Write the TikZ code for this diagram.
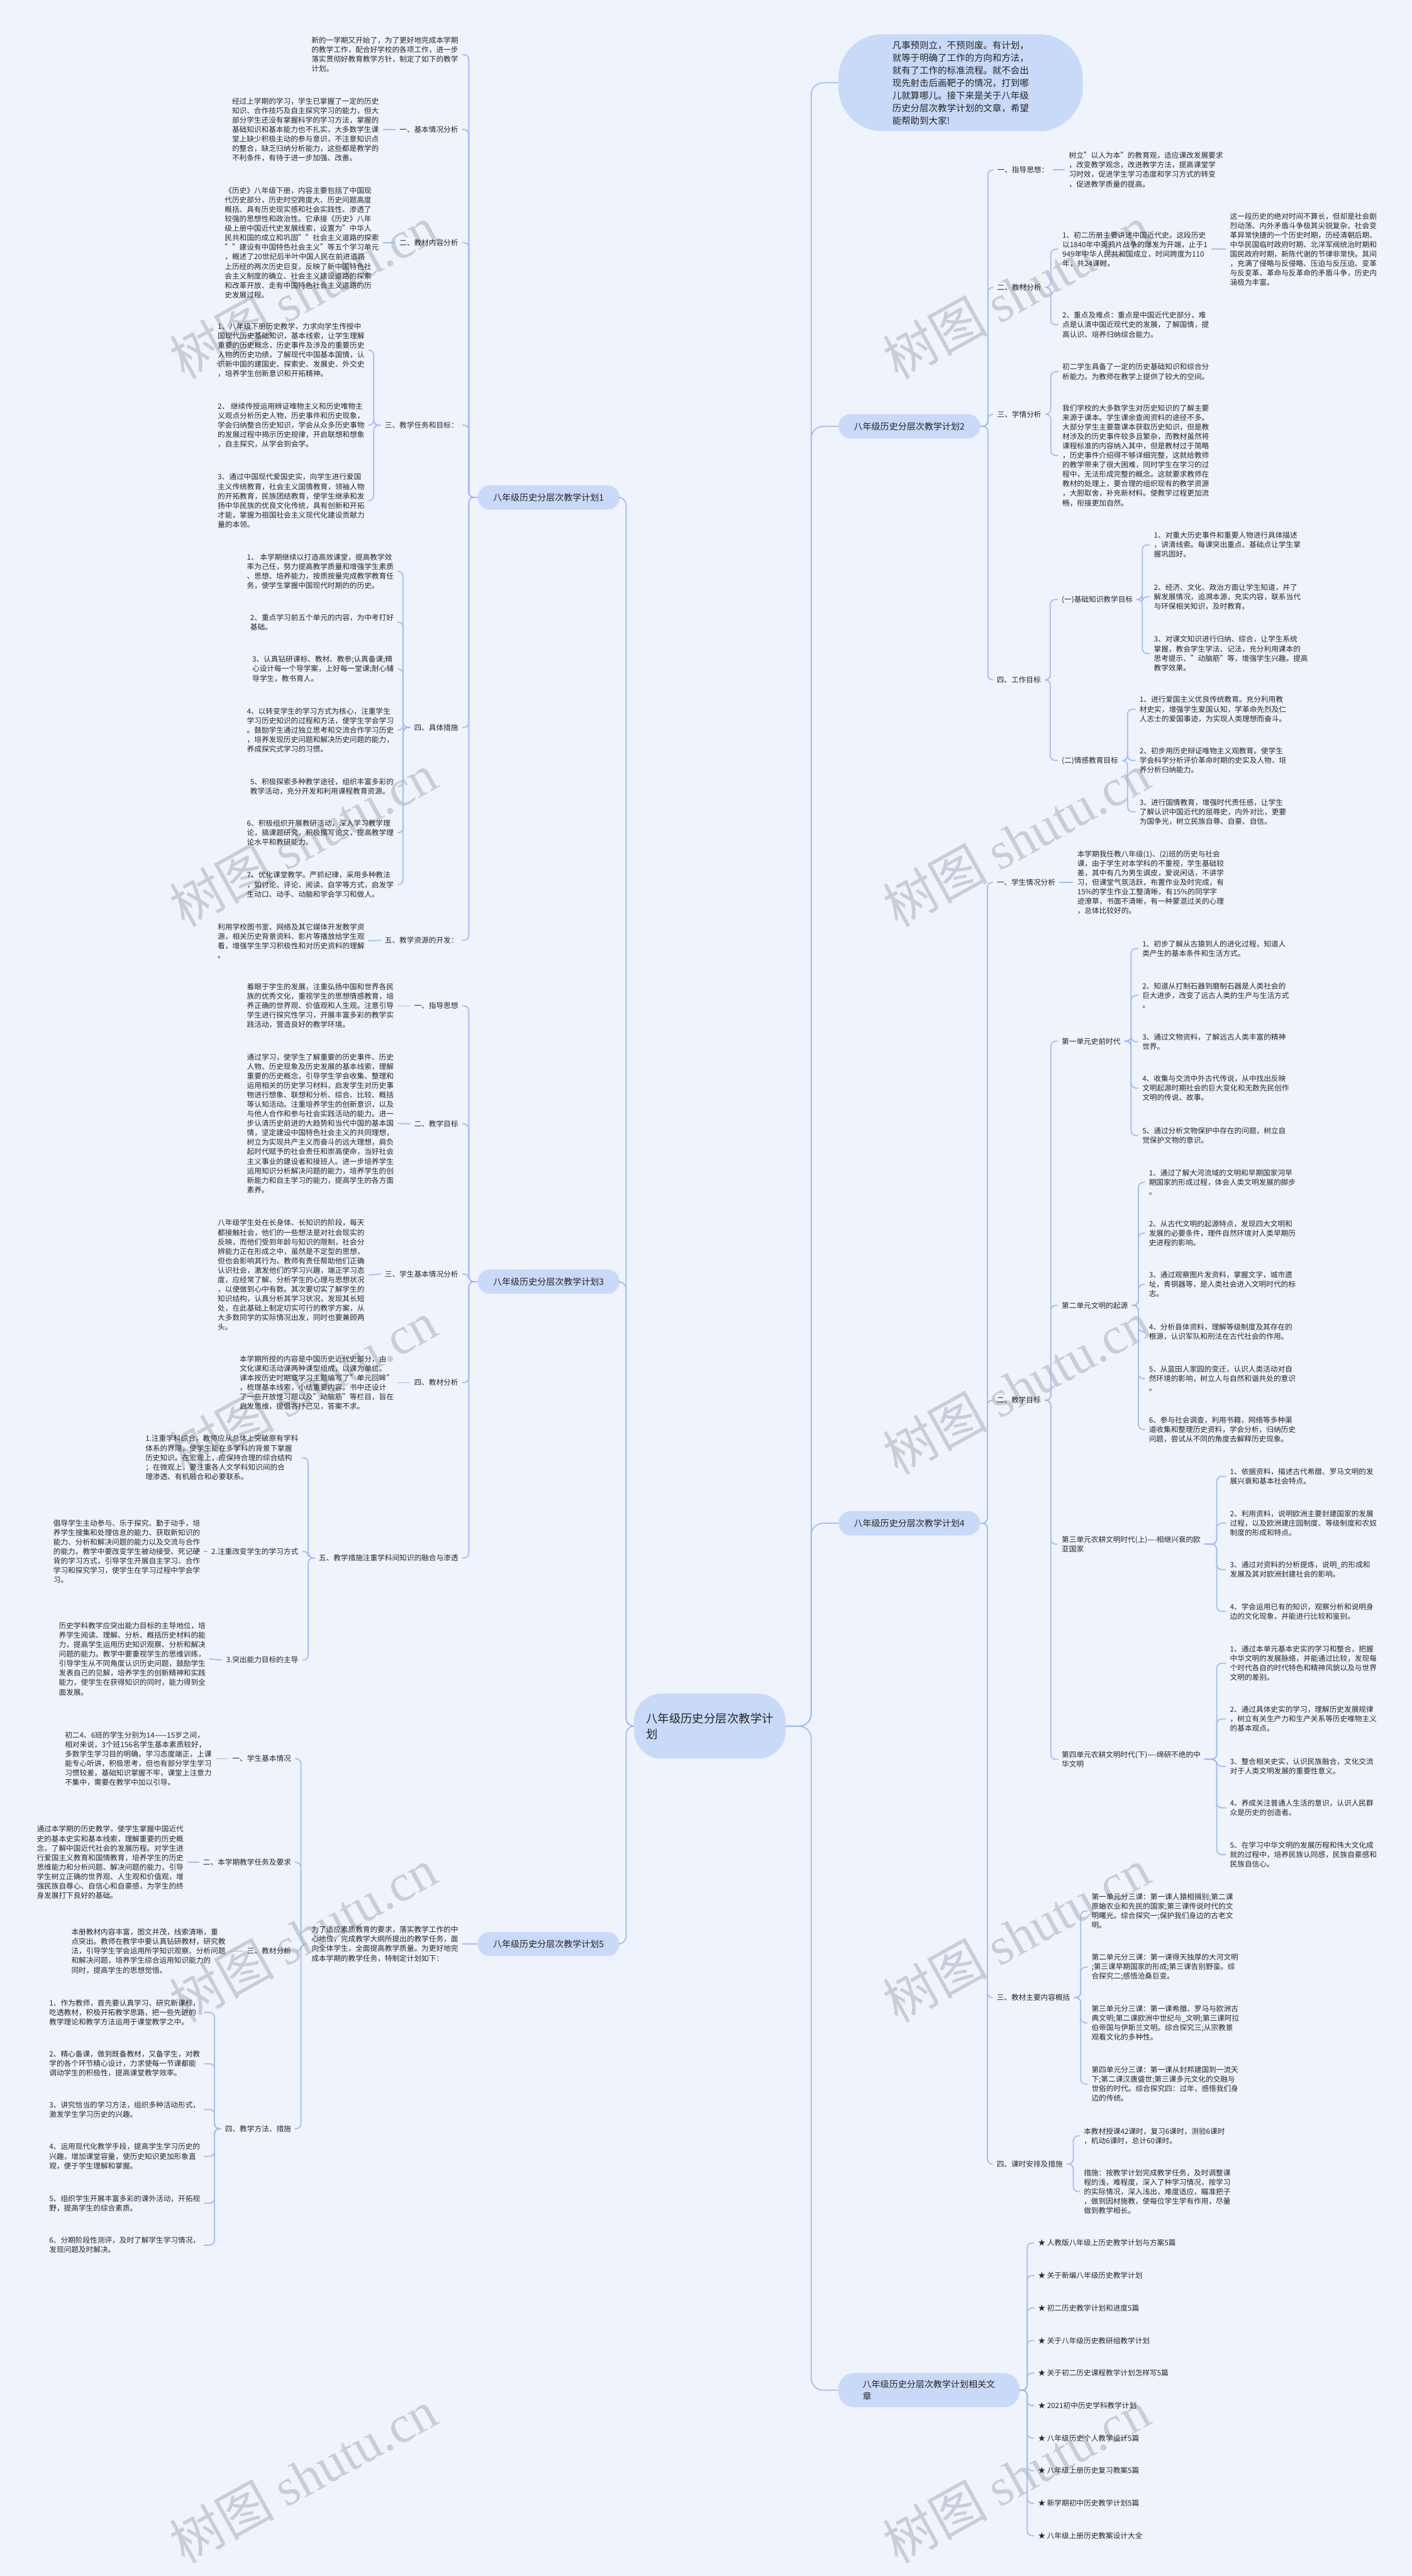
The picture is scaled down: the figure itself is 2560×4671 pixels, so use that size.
\documentclass[tikz,border=0pt]{standalone}
\usepackage{fontspec}
\setmainfont{Noto Sans CJK SC}
\newfontfamily\wmlat{Liberation Serif}
\definecolor{bg}{HTML}{EEF3FC}
\definecolor{ln}{HTML}{A4BDEA}
\definecolor{pillc}{HTML}{C9D9F8}
\definecolor{tx}{HTML}{262626}
\definecolor{wmc}{HTML}{9AA0AC}
\begin{document}
\begin{tikzpicture}[x=1pt,y=-1pt,
  t/.style={font=\fontsize{13.3}{17.2}\selectfont, align=left, inner xsep=7pt, inner ysep=1pt, text=tx},
  L/.style={t, anchor=east},
  R/.style={t, anchor=west},
  pill/.style={fill=pillc, rounded corners=22pt, minimum height=44pt, inner xsep=28pt, font=\fontsize{16}{21}\selectfont, text=tx},
  rootn/.style={fill=pillc, rounded corners=50pt, minimum width=275pt, minimum height=118pt, align=left, font=\fontsize{21}{29}\selectfont, text=tx},
  bubble/.style={fill=pillc, rounded corners=80pt, minimum width=443pt, minimum height=176pt, align=left, font=\fontsize{16.5}{22.8}\selectfont, text=tx},
  conn/.style={draw=ln, line width=2pt, rounded corners=9pt},
  br/.style={to path={(\tikztostart) -- ++(#1,0) |- (\tikztotarget)}},
  wm/.style={text=wmc, opacity=0.45, rotate=29, anchor=base west, inner sep=0pt, font=\fontsize{95}{95}\selectfont}
]
\fill[bg] (0,0) rectangle (2560,4671);
\useasboundingbox (0,0) rectangle (2560,4671);
\foreach \yy in {690,1683,2676,3669,4650}{
  \node[wm] (wl\yy) at (335,\yy) {树图 {\wmlat shutu.cn}};
  \node[wm] (wr\yy) at (1628,\yy) {树图 {\wmlat shutu.cn}};
}

% ---------- root ----------
\node[rootn] (root) at (1287,3130) {八年级历史分层次教学计\\划};
\node[bubble, anchor=west] (bub) at (1520,150) {凡事预则立，不预则废。有计划，\\就等于明确了工作的方向和方法，\\就有了工作的标准流程。就不会出\\现先射击后画靶子的情况，打到哪\\儿就算哪儿。接下来是关于八年级\\历史分层次教学计划的文章，希望\\能帮助到大家!};

\node[pill, anchor=west] (p1) at (866,902) {八年级历史分层次教学计划1};
\node[pill, anchor=west] (p3) at (866,2324) {八年级历史分层次教学计划3};
\node[pill, anchor=west] (p5) at (866,3525) {八年级历史分层次教学计划5};
\node[pill, anchor=west] (p2) at (1520,773) {八年级历史分层次教学计划2};
\node[pill, anchor=west] (p4) at (1520,2762) {八年级历史分层次教学计划4};
\node[pill, anchor=west, minimum height=62pt, inner xsep=44pt, align=left, rounded corners=28pt] (p6) at (1520,4334) {八年级历史分层次教学计划相关文\\章};

\begin{scope}[conn, rounded corners=14pt]
\draw (root.west) to[br=-14] (p1.east);
\draw (root.west) to[br=-14] (p3.east);
\draw (root.west) to[br=-14] (p5.east);
\end{scope}
\begin{scope}[conn, rounded corners=22pt]
\draw (root.east) to[br=46] (bub.west);
\draw (root.east) to[br=46] (p2.west);
\draw (root.east) to[br=46] (p4.west);
\draw (root.east) to[br=46] (p6.west);
\end{scope}

% ---------- plan 1 ----------
\node[L] (a1) at (838,99) {新的一学期又开始了，为了更好地完成本学期\\的教学工作，配合好学校的各项工作，进一步\\落实贯彻好教育教学方针，制定了如下的教学\\计划。};
\node[L] (a2) at (838,235) {一、基本情况分析};
\node[L] (a2t) at (694,235) {经过上学期的学习，学生已掌握了一定的历史\\知识、合作技巧及自主探究学习的能力，但大\\部分学生还没有掌握科学的学习方法，掌握的\\基础知识和基本能力也不扎实，大多数学生课\\堂上缺少积极主动的参与意识，不注意知识点\\的整合，缺乏归纳分析能力，这些都是教学的\\不利条件，有待于进一步加强、改善。};
\node[L] (a3) at (838,440) {二、教材内容分析};
\node[L] (a3t) at (694,440) {《历史》八年级下册，内容主要包括了中国现\\代历史部分，历史时空跨度大、历史问题高度\\概括、具有历史现实感和社会实践性、渗透了\\较强的思想性和政治性。它承接《历史》八年\\级上册中国近代史发展线索，设置为"中华人\\民共和国的成立和巩固""社会主义道路的探索\\""建设有中国特色社会主义"等五个学习单元\\，概述了20世纪后半叶中国人民在前进道路\\上历经的两次历史巨变，反映了新中国特色社\\会主义制度的确立、社会主义建设道路的探索\\和改革开放、走有中国特色社会主义道路的历\\史发展过程。};
\node[L] (a4) at (838,771) {三、教学任务和目标：};
\node[L] (a41) at (668,635) {1、八年级下册历史教学，力求向学生传授中\\国现代历史基础知识，基本线索，让学生理解\\重要的历史概念，历史事件及涉及的重要历史\\人物的历史功绩，了解现代中国基本国情，认\\识新中国的建国史、探索史、发展史、外交史\\，培养学生创新意识和开拓精神。};
\node[L] (a42) at (668,771) {2、 继续传授运用辨证唯物主义和历史唯物主\\义观点分析历史人物，历史事件和历史现象，\\学会归纳整合历史知识，学会从众多历史事物\\的发展过程中揭示历史规律，开启联想和想象\\，自主探究，从学会到会学。};
\node[L] (a43) at (668,908) {3、通过中国现代爱国史实，向学生进行爱国\\主义传统教育，社会主义国情教育，领袖人物\\的开拓教育，民族团结教育，使学生继承和发\\扬中华民族的优良文化传统，具有创新和开拓\\才能，掌握为祖国社会主义现代化建设贡献力\\量的本领。};
\node[L] (a5) at (838,1319) {四、具体措施};
\node[L] (a51) at (721,1036) {1、 本学期继续以打造高效课堂，提高教学效\\率为己任，努力提高教学质量和增强学生素质\\、思想、培养能力，按质按量完成教学教育任\\务，使学生掌握中国现代时期的的历史。};
\node[L] (a52) at (721,1128) {2、重点学习前五个单元的内容，为中考打好\\基础。};
\node[L] (a53) at (721,1213) {3、认真钻研课标、教材、教参;认真备课;精\\心设计每一个导学案，上好每一堂课;耐心辅\\导学生，教书育人。};
\node[L] (a54) at (721,1324) {4、以转变学生的学习方式为核心，注重学生\\学习历史知识的过程和方法，使学生学会学习\\。鼓励学生通过独立思考和交流合作学习历史\\，培养发现历史问题和解决历史问题的能力，\\养成探究式学习的习惯。};
\node[L] (a55) at (721,1426) {5、积极探索多种教学途径，组织丰富多彩的\\教学活动，充分开发和利用课程教育资源。};
\node[L] (a56) at (721,1510) {6、积极组织开展教研活动，深入学习教学理\\论，搞课题研究，积极撰写论文，提高教学理\\论水平和教研能力。};
\node[L] (a57) at (721,1604) {7、优化课堂教学。严抓纪律，采用多种教法\\，如讨论、评论、阅读、自学等方式，启发学\\生动口、动手、动脑和学会学习和做人。};
\node[L] (a6) at (838,1705) {五、教学资源的开发：};
\node[L] (a6t) at (668,1706) {利用学校图书室、网络及其它媒体开发教学资\\源，相关历史背景资料、影片等播放给学生观\\看，增强学生学习积极性和对历史资料的理解\\。};

\begin{scope}[conn]
\foreach \n in {a1,a2,a3,a4,a5,a6} \draw (p1.west) to[br=-16] (\n.east);
\draw (a2.west) -- (a2t.east);
\draw (a3.west) -- (a3t.east);
\draw (a6.west) -- (a6t.east);
\foreach \n in {a41,a42,a43} \draw (a4.west) to[br=-13] (\n.east);
\foreach \n in {a51,a52,a53,a54,a55,a56,a57} \draw (a5.west) to[br=-13] (\n.east);
\end{scope}

% ---------- plan 3 ----------
\node[L] (b1) at (838,1824) {一、指导思想};
\node[L] (b1t) at (721,1824) {着眼于学生的发展，注重弘扬中国和世界各民\\族的优秀文化，重视学生的思想情感教育，培\\养正确的世界观、价值观和人生观。注意引导\\学生进行探究性学习，开展丰富多彩的教学实\\践活动，营造良好的教学环境。};
\node[L] (b2) at (838,2038) {二、教学目标};
\node[L] (b2t) at (721,2037) {通过学习，使学生了解重要的历史事件、历史\\人物、历史现象及历史发展的基本线索，理解\\重要的历史概念，引导学生学会收集、整理和\\运用相关的历史学习材料，启发学生对历史事\\物进行想象、联想和分析、综合、比较、概括\\等认知活动。注重培养学生的创新意识，以及\\与他人合作和参与社会实践活动的能力。进一\\步认清历史前进的大趋势和当代中国的基本国\\情，坚定建设中国特色社会主义的共同理想，\\树立为实现共产主义而奋斗的远大理想，肩负\\起时代赋予的社会责任和崇高使命，当好社会\\主义事业的建设者和接班人。进一步培养学生\\运用知识分析解决问题的能力，培养学生的创\\新能力和自主学习的能力，提高学生的各方面\\素养。};
\node[L] (b3) at (838,2310) {三、学生基本情况分析};
\node[L] (b3t) at (668,2312) {八年级学生处在长身体、长知识的阶段，每天\\都接触社会，他们的一些想法是对社会现实的\\反映，而他们受到年龄与知识的限制，社会分\\辨能力正在形成之中，虽然是不定型的思想，\\但也会影响其行为。教师有责任帮助他们正确\\认识社会，激发他们的学习兴趣，端正学习态\\度，应经常了解、分析学生的心理与思想状况\\，以便做到心中有数。其次要切实了解学生的\\知识结构，认真分析其学习状况，发现其长短\\处，在此基础上制定切实可行的教学方案，从\\大多数同学的实际情况出发，同时也要兼顾两\\头。};
\node[L] (b4) at (838,2507) {四、教材分析};
\node[L] (b4t) at (721,2507) {本学期所授的内容是中国历史近代史部分，由\\文化课和活动课两种课型组成，以课为单位。\\课本按历史时期或学习主题编写了"单元回眸"\\，梳理基本线索，小结重要内容。书中还设计\\了一些开放性习题以及"动脑筋"等栏目，旨在\\启发思维，提倡各抒己见，答案不求。};
\node[L] (b5) at (838,2825) {五、教学措施注重学科间知识的融合与渗透};
\node[L] (b51) at (548,2643) {1.注重学科综合，教师应从总体上突破原有学科\\体系的界限，使学生能在多学科的背景下掌握\\历史知识。在宏观上，应保持合理的综合结构\\；在微观上，要注重各人文学科知识间的合\\理渗透、有机融合和必要联系。};
\node[L] (b52) at (548,2813) {2.注重改变学生的学习方式};
\node[L] (b52t) at (370,2813) {倡导学生主动参与、乐于探究、勤于动手，培\\养学生搜集和处理信息的能力、获取新知识的\\能力、分析和解决问题的能力以及交流与合作\\的能力。教学中要改变学生被动接受、死记硬\\背的学习方式，引导学生开展自主学习、合作\\学习和探究学习，使学生在学习过程中学会学\\习。};
\node[L] (b53) at (548,3010) {3.突出能力目标的主导};
\node[L] (b53t) at (380,3008) {历史学科教学应突出能力目标的主导地位，培\\养学生阅读、理解、分析、概括历史材料的能\\力，提高学生运用历史知识观察、分析和解决\\问题的能力。教学中要重视学生的思维训练，\\引导学生从不同角度认识历史问题，鼓励学生\\发表自己的见解，培养学生的创新精神和实践\\能力，使学生在获得知识的同时，能力得到全\\面发展。};

\begin{scope}[conn]
\foreach \n in {b1,b2,b3,b4,b5} \draw (p3.west) to[br=-16] (\n.east);
\draw (b1.west) -- (b1t.east);
\draw (b2.west) -- (b2t.east);
\draw (b3.west) -- (b3t.east);
\draw (b4.west) -- (b4t.east);
\foreach \n in {b51,b52,b53} \draw (b5.west) to[br=-12] (\n.east);
\draw (b52.west) -- (b52t.east);
\draw (b53.west) -- (b53t.east);
\end{scope}

% ---------- plan 5 ----------
\node[L] (c0) at (838,3525) {为了适应素质教育的要求，落实教学工作的中\\心地位，完成教学大纲所提出的教学任务，面\\向全体学生，全面提高教学质量。为更好地完\\成本学期的教学任务，特制定计划如下：};
\node[L] (c1) at (535,3189) {一、学生基本情况};
\node[L] (c1t) at (391,3189) {初二4、6班的学生分别为14——15岁之间，\\相对来说，3个班156名学生基本素质较好，\\多数学生学习目的明确，学习态度端正，上课\\能专心听讲，积极思考，但也有部分学生学习\\习惯较差，基础知识掌握不牢，课堂上注意力\\不集中，需要在教学中加以引导。};
\node[L] (c2) at (535,3377) {二、本学期教学任务及要求};
\node[L] (c2t) at (340,3377) {通过本学期的历史教学，使学生掌握中国近代\\史的基本史实和基本线索，理解重要的历史概\\念，了解中国近代社会的发展历程。对学生进\\行爱国主义教育和国情教育，培养学生的历史\\思维能力和分析问题、解决问题的能力，引导\\学生树立正确的世界观、人生观和价值观，增\\强民族自尊心、自信心和自豪感，为学生的终\\身发展打下良好的基础。};
\node[L] (c3) at (535,3538) {三、教材分析};
\node[L] (c3t) at (416,3538) {本册教材内容丰富，图文并茂，线索清晰，重\\点突出。教师在教学中要认真钻研教材，研究教\\法，引导学生学会运用所学知识观察、分析问题\\和解决问题，培养学生综合运用知识能力的\\同时，提高学生的思想觉悟。};
\node[L] (c4) at (535,3860) {四、教学方法、措施};
\node[L] (c41) at (370,3649) {1、作为教师，首先要认真学习、研究新课标，\\吃透教材，积极开拓教学思路，把一些先进的\\教学理论和教学方法运用于课堂教学之中。};
\node[L] (c42) at (370,3742) {2、精心备课，做到既备教材，又备学生，对教\\学的各个环节精心设计，力求使每一节课都能\\调动学生的积极性，提高课堂教学效率。};
\node[L] (c43) at (370,3825) {3、讲究恰当的学习方法，组织多种活动形式，\\激发学生学习历史的兴趣。};
\node[L] (c44) at (370,3910) {4、运用现代化教学手段，提高学生学习历史的\\兴趣，增加课堂容量，使历史知识更加形象直\\观，便于学生理解和掌握。};
\node[L] (c45) at (370,3995) {5、组织学生开展丰富多彩的课外活动，开拓视\\野，提高学生的综合素质。};
\node[L] (c46) at (370,4071) {6、分期阶段性测评，及时了解学生学习情况，\\发现问题及时解决。};
\begin{scope}[conn]
\draw (p5.west) -- (c0.east);
\foreach \n in {c1,c2,c3,c4} \draw (c0.west) to[br=-12] (\n.east);
\draw (c1.west) -- (c1t.east);
\draw (c2.west) -- (c2t.east);
\draw (c3.west) -- (c3t.east);
\foreach \n in {c41,c42,c43,c44,c45,c46} \draw (c4.west) to[br=-12] (\n.east);
\end{scope}

% ---------- plan 2 ----------
\node[R] (d1) at (1801,308) {一、指导思想：};
\node[R] (d1t) at (1931,308) {树立"以人为本"的教育观，适应课改发展要求\\，改变教学观念，改进教学方法，提高课堂学\\习时效，促进学生学习态度和学习方式的转变\\，促进教学质量的提高。};
\node[R] (d2) at (1801,521) {二、教材分析};
\node[R] (d21) at (1919,452) {1、初二历册主要讲述中国近代史。这段历史\\以1840年中英鸦片战争的爆发为开端，止于1\\949年中华人民共和国成立，时间跨度为110\\年，共24课时。};
\node[R] (d21c) at (2223,452) {这一段历史的绝对时间不算长，但却是社会剧\\烈动荡、内外矛盾斗争极其尖锐复杂、社会变\\革异常快捷的一个历史时期，历经清朝后期、\\中华民国临时政府时期、北洋军阀统治时期和\\国民政府时期，新陈代谢的节律非常快。其间\\，充满了侵略与反侵略、压迫与反压迫、变革\\与反变革、革命与反革命的矛盾斗争，历史内\\涵极为丰富。};
\node[R] (d22) at (1919,589) {2、重点及难点：重点是中国近代史部分，难\\点是认清中国近现代史的发展，了解国情，提\\高认识、培养归纳综合能力。};
\node[R] (d3) at (1801,751) {三、学情分析};
\node[R] (d31) at (1919,674) {初二学生具备了一定的历史基础知识和综合分\\析能力。为教师在教学上提供了较大的空间。};
\node[R] (d32) at (1919,826) {我们学校的大多数学生对历史知识的了解主要\\来源于课本。学生课余查阅资料的途径不多。\\大部分学生主要靠课本获取历史知识，但是教\\材涉及的历史事件较多且繁杂，而教材虽然将\\课程标准的内容纳入其中，但是教材过于简略\\，历史事件介绍得不够详细完整，这就给教师\\的教学带来了很大困难，同时学生在学习的过\\程中，无法形成完整的概念。这就要求教师在\\教材的处理上，要合理的组织现有的教学资源\\，大胆取舍，补充新材料。使教学过程更加流\\畅，衔接更加自然。};
\node[R] (d4) at (1800,1233) {四、工作目标};
\node[R] (d41) at (1918,1087) {(一)基础知识教学目标};
\node[R] (d411) at (2085,988) {1、对重大历史事件和重要人物进行具体描述\\，讲清线索。每课突出重点、基础点让学生掌\\握巩固好。};
\node[R] (d412) at (2085,1082) {2、经济、文化、政治方面让学生知道，并了\\解发展情况，追溯本源，充实内容，联系当代\\与环保相关知识，及时教育。};
\node[R] (d413) at (2085,1185) {3、对课文知识进行归纳、综合，让学生系统\\掌握，教会学生学法、记法，充分利用课本的\\思考提示、"动脑筋"等，增强学生兴趣。提高\\教学效果。};
\node[R] (d42) at (1918,1379) {(二)情感教育目标};
\node[R] (d421) at (2059,1286) {1、进行爱国主义优良传统教育。充分利用教\\材史实，增强学生爱国认知，学革命先烈及仁\\人志士的爱国事迹，为实现人类理想而奋斗。};
\node[R] (d422) at (2059,1379) {2、初步用历史辩证唯物主义观教育。使学生\\学会科学分析评价革命时期的史实及人物，培\\养分析归纳能力。};
\node[R] (d423) at (2059,1472) {3、进行国情教育，增强时代责任感，让学生\\了解认识中国近代的屈辱史，内外对比，更要\\为国争光，树立民族自尊、自豪、自信。};
\begin{scope}[conn]
\foreach \n in {d1,d2,d3,d4} \draw (p2.east) to[br=14] (\n.west);
\draw (d1.east) -- (d1t.west);
\foreach \n in {d21,d22} \draw (d2.east) to[br=10] (\n.west);
\draw (d21.east) -- (d21c.west);
\foreach \n in {d31,d32} \draw (d3.east) to[br=10] (\n.west);
\foreach \n in {d41,d42} \draw (d4.east) to[br=10] (\n.west);
\foreach \n in {d411,d412,d413} \draw (d41.east) to[br=10] (\n.west);
\foreach \n in {d421,d422,d423} \draw (d42.east) to[br=10] (\n.west);
\end{scope}

% ---------- plan 4 ----------
\node[R] (e1) at (1800,1600) {一、学生情况分析};
\node[R] (e1t) at (1946,1600) {本学期我任教八年级(1)、(2)班的历史与社会\\课，由于学生对本学科的不重视，学生基础较\\差，其中有几为男生调皮，爱说闲话，不讲学\\习，但课堂气氛活跃，布置作业及时完成，有\\15\%的学生作业工整清晰，有15\%的同学字\\迹潦草，书面不清晰，有一种蒙混过关的心理\\，总体比较好的。};
\node[R] (e2) at (1800,2539) {二、教学目标};
\node[R] (e21) at (1918,1888) {第一单元史前时代};
\node[R] (e211) at (2064,1720) {1、初步了解从古猿到人的进化过程，知道人\\类产生的基本条件和生活方式。};
\node[R] (e212) at (2064,1805) {2、知道从打制石器到磨制石器是人类社会的\\巨大进步，改变了远古人类的生产与生活方式\\。};
\node[R] (e213) at (2064,1889) {3、通过文物资料，了解远古人类丰富的精神\\世界。};
\node[R] (e214) at (2064,1973) {4、收集与交流中外古代传说，从中找出反映\\文明起源时期社会的巨大变化和无数先民创作\\文明的传说、故事。};
\node[R] (e215) at (2064,2059) {5、通过分析文物保护中存在的问题，树立自\\觉保护文物的意识。};
\node[R] (e22) at (1918,2367) {第二单元文明的起源};
\node[R] (e221) at (2076,2144) {1、通过了解大河流域的文明和早期国家河早\\期国家的形成过程，体会人类文明发展的脚步\\。};
\node[R] (e222) at (2076,2236) {2、从古代文明的起源特点，发现四大文明和\\发展的必要条件，理件自然环境对人类早期历\\史进程的影响。};
\node[R] (e223) at (2076,2329) {3、通过观察图片发资料，掌握文字，城市遗\\址，青铜器等，是人类社会进入文明时代的标\\志。};
\node[R] (e224) at (2076,2415) {4、分析县体资料，理解等级制度及其存在的\\根源，认识军队和刑法在古代社会的作用。};
\node[R] (e225) at (2076,2500) {5、从蓝田人家园的变迁，认识人类活动对自\\然环境的影响，树立人与自然和谐共处的意识\\。};
\node[R] (e226) at (2076,2592) {6、参与社会调查，利用书籍，网络等多种渠\\道收集和整理历史资料，学会分析，归纳历史\\问题，尝试从不同的角度去解释历史现象。};
\node[R] (e23) at (1918,2800) {第三单元农耕文明时代(上)----相继兴衰的欧\\亚国家};
\node[R] (e231) at (2223,2677) {1、依据资料，描述古代希腊、罗马文明的发\\展兴衰和基本社会特点。};
\node[R] (e232) at (2223,2762) {2、利用资料，说明欧洲主要封建国家的发展\\过程，以及欧洲建庄园制度、等级制度和农奴\\制度的形成和特点。};
\node[R] (e233) at (2223,2846) {3、通过对资料的分析提炼，说明\_的形成和\\发展及其对欧洲封建社会的影响。};
\node[R] (e234) at (2223,2922) {4、学会运用已有的知识，观察分析和说明身\\边的文化现象，并能进行比较和鉴别。};
\node[R] (e24) at (1918,3190) {第四单元农耕文明时代(下)----绵研不绝的中\\华文明};
\node[R] (e241) at (2223,3016) {1、通过本单元基本史实的学习和整合，把握\\中华文明的发展脉络，并能通过比较，发现每\\个时代各自的时代特色和精神风貌以及与世界\\文明的差别。};
\node[R] (e242) at (2223,3117) {2、通过具体史实的学习，理解历史发展规律\\，树立有关生产力和生产关系等历史唯物主义\\的基本观点。};
\node[R] (e243) at (2223,3203) {3、整合相关史实，认识民族融合，文化交流\\对于人类文明发展的重要性意义。};
\node[R] (e244) at (2223,3278) {4、养成关注普通人生活的意识，认识人民群\\众是历史的创造者。};
\node[R] (e245) at (2223,3363) {5、在学习中华文明的发展历程和伟大文化成\\就的过程中，培养民族认同感，民族自豪感和\\民族自信心。};
\node[R] (e3) at (1800,3622) {三、教材主要内容概括};
\node[R] (e31) at (1972,3465) {第一单元分三课：第一课人猿相揖别;第二课\\原始农业和先民的国家;第三课传说时代的文\\明曙光。综合探究一;保护我们身边的古老文\\明。};
\node[R] (e32) at (1972,3567) {第二单元分三课：第一课得天独厚的大河文明\\;第三课早期国家的形成;第三课告别野蛮。综\\合探究二;感悟沧桑巨变。};
\node[R] (e33) at (1972,3668) {第三单元分三课：第一课希腊、罗马与欧洲古\\典文明;第二课欧洲中世纪与\_文明;第三课阿拉\\伯帝国与伊斯兰文明。综合探究三;从宗教景\\观看文化的多种性。};
\node[R] (e34) at (1972,3779) {第四单元分三课：第一课从封邦建国到一流天\\下;第二课汉唐盛世;第三课多元文化的交融与\\世俗的时代。综合探究四：过年，感悟我们身\\边的传统。};
\node[R] (e4) at (1800,3924) {四、课时安排及措施};
\node[R] (e41) at (1958,3873) {本教材授课42课时，复习6课时，测验6课时\\，机动6课时，总计60课时。};
\node[R] (e42) at (1958,3974) {措施：按教学计划完成教学任务，及时调整课\\程的浅，难程度，深入了种学习情况，按学习\\的实际情况，深入浅出，难度适应，瞄准把子\\，做到因材施教，使每位学生学有作用，尽量\\做到教学相长。};
\begin{scope}[conn]
\foreach \n in {e1,e2,e3,e4} \draw (p4.east) to[br=13] (\n.west);
\draw (e1.east) -- (e1t.west);
\foreach \n in {e21,e22,e23,e24} \draw (e2.east) to[br=11] (\n.west);
\foreach \n in {e211,e212,e213,e214,e215} \draw (e21.east) to[br=12] (\n.west);
\foreach \n in {e221,e222,e223,e224,e225,e226} \draw (e22.east) to[br=12] (\n.west);
\foreach \n in {e231,e232,e233,e234} \draw (e23.east) to[br=22] (\n.west);
\foreach \n in {e241,e242,e243,e244,e245} \draw (e24.east) to[br=22] (\n.west);
\foreach \n in {e31,e32,e33,e34} \draw (e3.east) to[br=12] (\n.west);
\foreach \n in {e41,e42} \draw (e4.east) to[br=12] (\n.west);
\end{scope}

% ---------- related ----------
\node[R] (f1) at (1875,4067) {★ 人教版八年级上历史教学计划与方案5篇};
\node[R] (f2) at (1875,4126) {★ 关于新编八年级历史教学计划};
\node[R] (f3) at (1875,4185) {★ 初二历史教学计划和进度5篇};
\node[R] (f4) at (1875,4244) {★ 关于八年级历史教研组教学计划};
\node[R] (f5) at (1875,4303) {★ 关于初二历史课程教学计划怎样写5篇};
\node[R] (f6) at (1875,4362) {★ 2021初中历史学科教学计划};
\node[R] (f7) at (1875,4421) {★ 八年级历史个人教学设计5篇};
\node[R] (f8) at (1875,4480) {★ 八年级上册历史复习教案5篇};
\node[R] (f9) at (1875,4539) {★ 新学期初中历史教学计划5篇};
\node[R] (f10) at (1875,4598) {★ 八年级上册历史教案设计大全};
\begin{scope}[conn]
\foreach \n in {f1,f2,f3,f4,f5,f6,f7,f8,f9,f10} \draw (p6.east) to[br=14] (\n.west);
\end{scope}
\end{tikzpicture}
\end{document}
